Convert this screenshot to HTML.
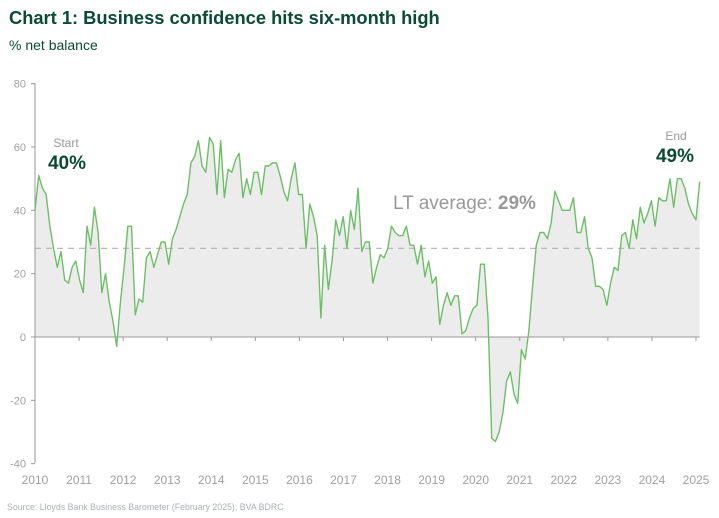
<!DOCTYPE html>
<html><head><meta charset="utf-8"><style>
body{margin:0;background:#fff;width:719px;height:518px;overflow:hidden;font-family:"Liberation Sans",sans-serif}
svg{display:block}
</style></head><body>
<svg id="c" width="719" height="518">
<text x="9" y="24" font-size="18.3" font-weight="bold" fill="#0b4a36">Chart 1: Business confidence hits six-month high</text>
<text x="9" y="50" font-size="14" fill="#0b4a36">% net balance</text>
<text x="7" y="510" font-size="8.8" fill="#aab0b5">Source: Lloyds Bank Business Barometer (February 2025), BVA BDRC</text>
</svg>
<script>
const values=[40,51,47,45,35,28,22,27,18,17,22,24,
18,14,35,29,41,33,14,20,11,5,-3,11,
22,35,35,7,12,11,25,27,22,26,30,30,
23,31,34,38,42,45,55,57,62,54,52,63,
61,45,62,44,53,52,56,58,44,50,45,52,
52,45,54,54,55,55,51,46,43,50,55,45,
45,28,42,38,32,6,29,15,24,37,32,38,
28,40,34,47,27,30,30,17,22,26,25,28,
35,33,32,32,35,29,29,23,29,19,24,17,
19,4,10,14,10,13,13,1,2,6,9,10,
23,23,6,-32,-33,-30,-24,-14,-11,-18,-21,-4,-7,
2,16,29,33,33,31,36,46,43,40,40,40,44,33,33,38,28,25,16,16,15,10,17,22,21,32,33,28,37,31,41,36,39,43,35,44,43,43,50,41,50,50,47,42,39,37,49];
const yTicks=[80,60,40,20,0,-20,-40];
const years=[2010,2011,2012,2013,2014,2015,2016,2017,2018,2019,2020,2021,2022,2023,2024,2025];
const ltAverage=28;
const startLabel="40%", endLabel="49%", ltLabel="29%";
const NS="http://www.w3.org/2000/svg";
const svg=document.getElementById('c');
const x0=35,x1=696,yTop=83,yBot=463;
const yS=v=>337-v*(yBot-yTop)/120;
const yearX=yr=>x0+(yr-2010)*(x1-x0)/15;
const xS=i=>yearX(2010+i*(15+1/12)/(values.length-1));
function mk(t,a){const e=document.createElementNS(NS,t);for(const k in a)e.setAttribute(k,a[k]);svg.appendChild(e);return e;}
let d=`M${xS(0)},${yS(0)}`;values.forEach((v,i)=>d+=`L${xS(i)},${yS(v)}`);d+=`L${xS(values.length-1)},${yS(0)}Z`;
const area=mk('path',{d,fill:'#ececec'});


const avg=mk('line',{x1:x0,x2:xS(values.length-1),y1:yS(ltAverage),y2:yS(ltAverage),stroke:'#b0b0b0','stroke-width':1.2,'stroke-dasharray':'6,5'});


const ya=mk('line',{x1:x0,x2:x0,y1:yTop,y2:yBot,stroke:'#999','stroke-width':1});


yTicks.forEach(t=>{
 const tk=mk('line',{x1:x0-4,x2:x0,y1:yS(t),y2:yS(t),stroke:'#999'});
 
 
 const tx=mk('text',{x:x0-9,y:yS(t)+4,'font-size':11,fill:'#a0a0a0','text-anchor':'end'});
 tx.textContent=t;
 
 
});
const xa=mk('line',{x1:x0,x2:xS(values.length-1),y1:yS(0),y2:yS(0),stroke:'#999'});


years.forEach(yr=>{
 const tk=mk('line',{x1:yearX(yr),x2:yearX(yr),y1:yS(0),y2:yS(0)+4,stroke:'#999'});
 
 
 const tx=mk('text',{x:yearX(yr),y:484,'font-size':12,fill:'#a0a0a0','text-anchor':'middle'});
 tx.textContent=yr;
 
 
});
let ld='';values.forEach((v,i)=>ld+=(i?'L':'M')+xS(i)+','+yS(v));
const line=mk('path',{d:ld,fill:'none',stroke:'#6dbf67','stroke-width':1.4,'stroke-linejoin':'round'});


function txt(x,y,s,sz,fill,w,anchor,name){const e=mk('text',{x,y,'font-size':sz,fill,'font-weight':w,'text-anchor':anchor});e.textContent=s;return e;}
txt(66,147,'Start',12,'#999','normal','middle','start-label');
txt(67,169,startLabel,19,'#0b4a36','bold','middle','start-value');
txt(676,140,'End',12,'#999','normal','middle','end-label');
txt(675,162,endLabel,19,'#0b4a36','bold','middle','end-value');
const lt=mk('text',{x:393,y:209,'font-size':19,fill:'#999'});
lt.innerHTML='LT average: <tspan font-weight="bold">'+ltLabel+'</tspan>';


</script>
</body></html>
